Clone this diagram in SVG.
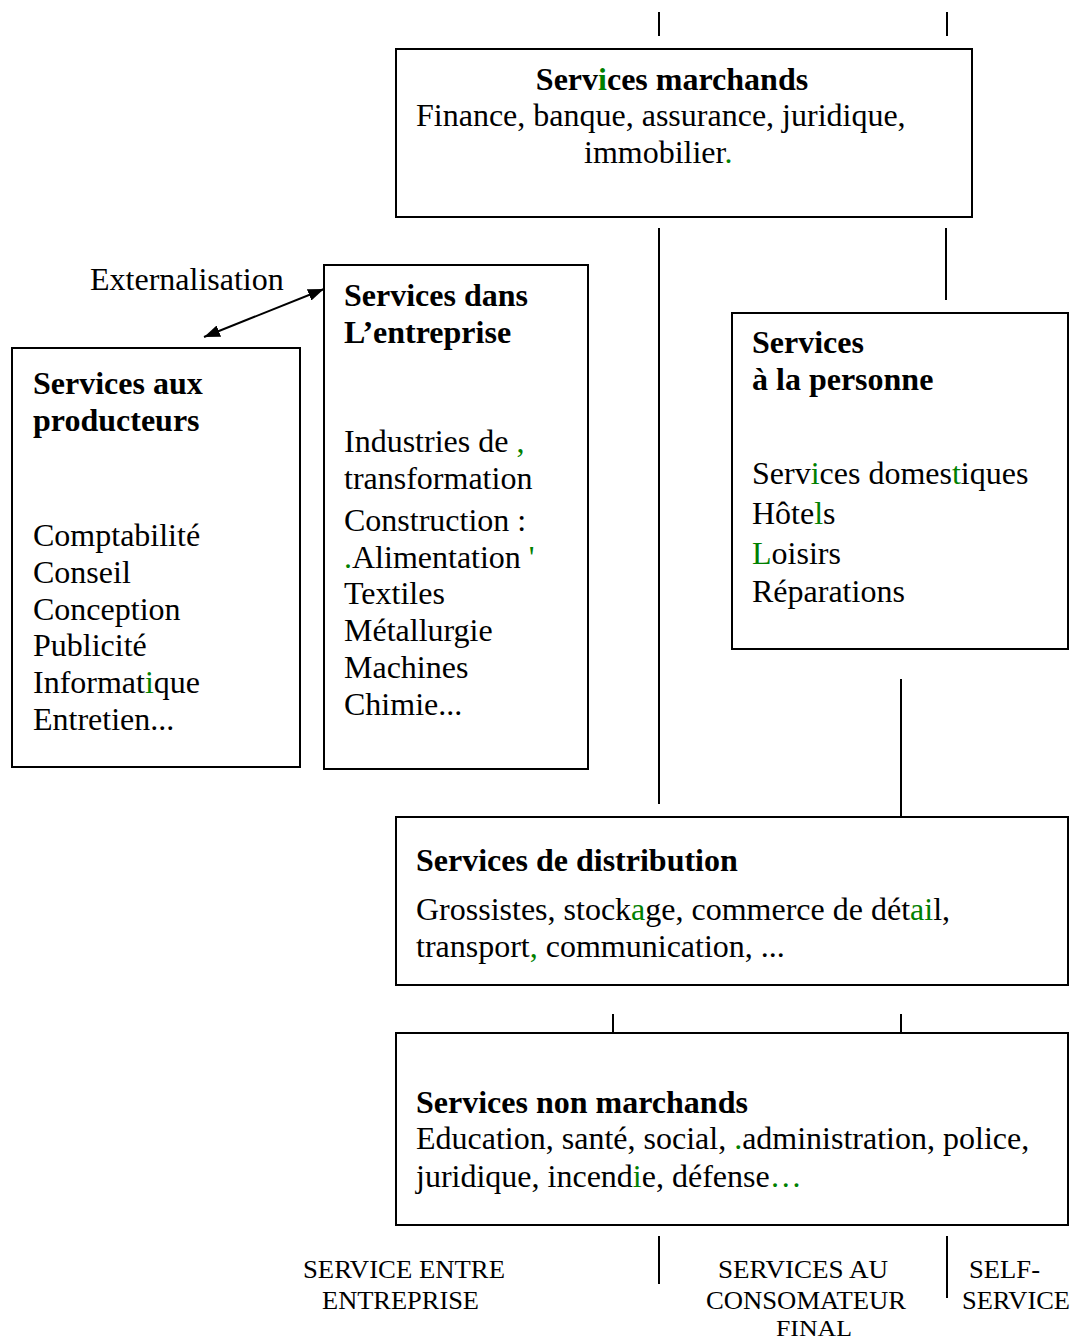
<svg xmlns="http://www.w3.org/2000/svg" width="1074" height="1341" viewBox="0 0 1074 1341">
  <style>
    .box { fill: #ffffff; stroke: #000000; stroke-width: 2; }
    .ln { stroke: #000000; stroke-width: 2; fill: none; }
    text { font-family: "Liberation Serif", "Times New Roman", serif; fill: #000000; }
    .t { font-size: 32px; }
    .b { font-size: 32px; font-weight: bold; }
    .s { font-size: 26px; }
    .g { fill: #008000; }
  </style>
  <defs>
    <marker id="head" viewBox="0 0 16 12" refX="16" refY="6" markerWidth="16" markerHeight="12" orient="auto-start-reverse" markerUnits="userSpaceOnUse">
      <path d="M0,0 L16,6 L0,12 z" fill="#000000"/>
    </marker>
  </defs>
  <rect width="1074" height="1341" fill="#ffffff"/>

  <!-- connectors -->
  <g id="connectors">
    <line class="ln" x1="659" y1="12" x2="659" y2="36"/>
    <line class="ln" x1="947" y1="12" x2="947" y2="36"/>
    <line class="ln" x1="659" y1="228" x2="659" y2="804"/>
    <line class="ln" x1="946" y1="228" x2="946" y2="300"/>
    <line class="ln" x1="901" y1="679" x2="901" y2="823"/>
    <line class="ln" x1="613" y1="1014" x2="613" y2="1034"/>
    <line class="ln" x1="901" y1="1014" x2="901" y2="1034"/>
    <line class="ln" x1="659" y1="1236" x2="659" y2="1284"/>
    <line class="ln" x1="947" y1="1236" x2="947" y2="1298"/>
    <line class="ln" x1="204" y1="337" x2="324" y2="289" marker-start="url(#head)" marker-end="url(#head)"/>
    <text class="t" x="90" y="290">Externalisation</text>
  </g>

  <!-- Services marchands -->
  <g id="services-marchands">
    <rect class="box" x="396" y="49" width="576" height="168"/>
    <text class="b" x="672" y="90" text-anchor="middle">Serv<tspan class="g">i</tspan>ces marchands</text>
    <text class="t" x="416" y="126">Finance, banque, assurance, juridique,</text>
    <text class="t" x="584" y="163">immobilier<tspan class="g">.</tspan></text>
  </g>

  <!-- Services aux producteurs -->
  <g id="services-producteurs">
    <rect class="box" x="12" y="348" width="288" height="419"/>
    <text class="b" x="33" y="394">Services aux</text>
    <text class="b" x="33" y="431">producteurs</text>
    <text class="t" x="33" y="546">Comptabilité</text>
    <text class="t" x="33" y="583">Conseil</text>
    <text class="t" x="33" y="620">Conception</text>
    <text class="t" x="33" y="656">Publicité</text>
    <text class="t" x="33" y="693">Informat<tspan class="g">i</tspan>que</text>
    <text class="t" x="33" y="730">Entretien...</text>
  </g>

  <!-- Services dans l'entreprise -->
  <g id="services-entreprise">
    <rect class="box" x="324" y="265" width="264" height="504"/>
    <text class="b" x="344" y="306">Services dans</text>
    <text class="b" x="344" y="343">L’entreprise</text>
    <text class="t" x="344" y="452">Industries de <tspan class="g">,</tspan></text>
    <text class="t" x="344" y="489">transformation</text>
    <text class="t" x="344" y="531">Construction :</text>
    <text class="t" x="344" y="568"><tspan class="g">.</tspan>Alimentation <tspan class="g">'</tspan></text>
    <text class="t" x="344" y="604">Textiles</text>
    <text class="t" x="344" y="641">Métallurgie</text>
    <text class="t" x="344" y="678">Machines</text>
    <text class="t" x="344" y="715">Chimie...</text>
  </g>

  <!-- Services a la personne -->
  <g id="services-personne">
    <rect class="box" x="732" y="313" width="336" height="336"/>
    <text class="b" x="752" y="353">Services</text>
    <text class="b" x="752" y="390">à la personne</text>
    <text class="t" x="752" y="484">Serv<tspan class="g">i</tspan>ces domes<tspan class="g">t</tspan>iques</text>
    <text class="t" x="752" y="524">Hôte<tspan class="g">l</tspan>s</text>
    <text class="t" x="752" y="564"><tspan class="g">L</tspan>oisirs</text>
    <text class="t" x="752" y="602">Réparations</text>
  </g>

  <!-- Services de distribution -->
  <g id="services-distribution">
    <rect class="box" x="396" y="817" width="672" height="168"/>
    <text class="b" x="416" y="871">Services de distribution</text>
    <text class="t" x="416" y="920">Grossistes, stock<tspan class="g">a</tspan>ge, commerce de dét<tspan class="g">ai</tspan>l,</text>
    <text class="t" x="416" y="957">transport<tspan class="g">,</tspan> communication, ...</text>
  </g>

  <!-- Services non marchands -->
  <g id="services-non-marchands">
    <rect class="box" x="396" y="1033" width="672" height="192"/>
    <text class="b" x="416" y="1113">Services non marchands</text>
    <text class="t" x="416" y="1149">Education, santé, social, <tspan class="g">.</tspan>administration, police,</text>
    <text class="t" x="416" y="1187">juridique, incend<tspan class="g">i</tspan>e, défense<tspan class="g">…</tspan></text>
  </g>

  <!-- bottom labels -->
  <g id="labels">
    <text class="s" x="303" y="1278" textLength="202" lengthAdjust="spacingAndGlyphs">SERVICE ENTRE</text>
    <text class="s" x="322" y="1309" textLength="157" lengthAdjust="spacingAndGlyphs">ENTREPRISE</text>
    <text class="s" x="718" y="1278" textLength="170" lengthAdjust="spacingAndGlyphs">SERVICES AU</text>
    <text class="s" x="706" y="1309" textLength="200" lengthAdjust="spacingAndGlyphs">CONSOMATEUR</text>
    <text class="s" x="776" y="1336" textLength="76" lengthAdjust="spacingAndGlyphs" style="font-size:24px">FINAL</text>
    <text class="s" x="969" y="1278" textLength="71" lengthAdjust="spacingAndGlyphs">SELF-</text>
    <text class="s" x="962" y="1309" textLength="108" lengthAdjust="spacingAndGlyphs">SERVICE</text>
  </g>
</svg>
